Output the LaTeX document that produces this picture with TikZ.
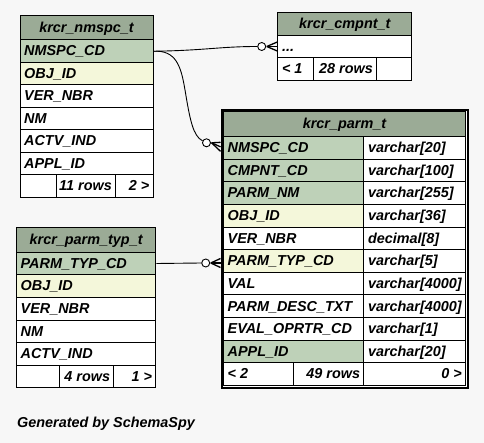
\documentclass[tikz,border=0pt]{standalone}
\usepackage{fontspec}
\setmainfont{Liberation Sans}
\definecolor{bg}{HTML}{F7F7F7}
\definecolor{hd}{HTML}{9BAB96}
\definecolor{pk}{HTML}{BED1B8}
\definecolor{fk}{HTML}{F4F7DA}
\tikzset{
  cellbox/.style={draw=black, line width=1pt, anchor=north west, inner sep=0pt},
  celltext/.style={inner sep=0pt, font=\fontsize{14.4}{16}\selectfont\bfseries\itshape,
    text height=10.3pt, text depth=0pt},
  opt/.style={circle, draw=black, fill=white, line width=0.9pt, minimum size=8pt, inner sep=0pt},
  crowline/.style={draw=black, line width=1.3pt},
  edge/.style={draw=black, line width=0.9pt},
}
% name, x, y, width, height, fill, text
\newcommand\cellL[7]{%
  \node[cellbox, fill=#6, minimum width=#4pt, minimum height=#5pt] (#1) at (#2,#3) {};
  \node[celltext, anchor=west] (#1t) at ([xshift=4.5pt,yshift=0.4pt]#1.west) {#7};}
\newcommand\cellC[7]{%
  \node[cellbox, fill=#6, minimum width=#4pt, minimum height=#5pt] (#1) at (#2,#3) {};
  \node[celltext, anchor=center] (#1t) at ([yshift=0.4pt]#1.center) {#7};}
\newcommand\cellR[7]{%
  \node[cellbox, fill=#6, minimum width=#4pt, minimum height=#5pt] (#1) at (#2,#3) {};
  \node[celltext, anchor=east] (#1t) at ([xshift=-4pt,yshift=0.4pt]#1.east) {#7};}
\newcommand\cellE[6]{%
  \node[cellbox, fill=#6, minimum width=#4pt, minimum height=#5pt] (#1) at (#2,#3) {};}
\begin{document}
\begin{tikzpicture}[x=1pt,y=-1pt]
\fill[bg] (0,0) rectangle (484,443);
\useasboundingbox (0,0) rectangle (484,443);

% krcr_nmspc_t
\cellC{nh}{19.5}{15}{133}{24.5}{hd}{krcr\_nmspc\_t}
\cellL{n1}{19.5}{39.5}{133}{22.5}{pk}{NMSPC\_CD}
\cellL{n2}{19.5}{62}{133}{22.5}{fk}{OBJ\_ID}
\cellL{n3}{19.5}{84.5}{133}{22.5}{white}{VER\_NBR}
\cellL{n4}{19.5}{107}{133}{22.5}{white}{NM}
\cellL{n5}{19.5}{129.5}{133}{22.5}{white}{ACTV\_IND}
\cellL{n6}{19.5}{152}{133}{22.5}{white}{APPL\_ID}
\cellE{nf1}{19.5}{174.5}{36.2}{22.5}{white}
\cellR{nf2}{55.7}{174.5}{59.3}{22.5}{white}{11 rows}
\cellR{nf3}{115}{174.5}{37.5}{22.5}{white}{2 >}

% krcr_cmpnt_t
\cellC{ch}{277.3}{11.7}{134}{23.3}{hd}{krcr\_cmpnt\_t}
\cellL{c1}{277.3}{35}{134}{22.3}{white}{...}
\cellL{cf1}{277.3}{57.3}{36}{22.7}{white}{< 1}
\cellR{cf2}{313.3}{57.3}{62.7}{22.7}{white}{28 rows}
\cellE{cf3}{376}{57.3}{35.3}{22.7}{white}

% krcr_parm_t
\node[draw=black, fill=white, line width=2pt, anchor=north west, inner sep=0pt,
      minimum width=246.5pt, minimum height=278pt] (pframe) at (220.5,109) {};
\cellC{ph}{223}{111.5}{242}{24.5}{hd}{krcr\_parm\_t}
\cellL{p1}{223}{136}{140.3}{22.64}{pk}{NMSPC\_CD}
\cellL{t1}{363.3}{136}{101.7}{22.64}{white}{varchar[20]}
\cellL{p2}{223}{158.64}{140.3}{22.64}{pk}{CMPNT\_CD}
\cellL{t2}{363.3}{158.64}{101.7}{22.64}{white}{varchar[100]}
\cellL{p3}{223}{181.28}{140.3}{22.64}{pk}{PARM\_NM}
\cellL{t3}{363.3}{181.28}{101.7}{22.64}{white}{varchar[255]}
\cellL{p4}{223}{203.92}{140.3}{22.64}{fk}{OBJ\_ID}
\cellL{t4}{363.3}{203.92}{101.7}{22.64}{white}{varchar[36]}
\cellL{p5}{223}{226.56}{140.3}{22.64}{white}{VER\_NBR}
\cellL{t5}{363.3}{226.56}{101.7}{22.64}{white}{decimal[8]}
\cellL{p6}{223}{249.2}{140.3}{22.64}{fk}{PARM\_TYP\_CD}
\cellL{t6}{363.3}{249.2}{101.7}{22.64}{white}{varchar[5]}
\cellL{p7}{223}{271.84}{140.3}{22.64}{white}{VAL}
\cellL{t7}{363.3}{271.84}{101.7}{22.64}{white}{varchar[4000]}
\cellL{p8}{223}{294.48}{140.3}{22.64}{white}{PARM\_DESC\_TXT}
\cellL{t8}{363.3}{294.48}{101.7}{22.64}{white}{varchar[4000]}
\cellL{p9}{223}{317.12}{140.3}{22.64}{white}{EVAL\_OPRTR\_CD}
\cellL{t9}{363.3}{317.12}{101.7}{22.64}{white}{varchar[1]}
\cellL{p10}{223}{339.76}{140.3}{22.64}{pk}{APPL\_ID}
\cellL{t10}{363.3}{339.76}{101.7}{22.64}{white}{varchar[20]}
\cellL{pf1}{223}{362.4}{70.3}{22.64}{white}{< 2}
\cellR{pf2}{293.3}{362.4}{70}{22.64}{white}{49 rows}
\cellR{pf3}{363.3}{362.4}{101.7}{22.64}{white}{0 >}

% krcr_parm_typ_t
\cellC{yh}{16}{227.3}{139.3}{24.4}{hd}{krcr\_parm\_typ\_t}
\cellL{y1}{16}{251.7}{139.3}{22.6}{pk}{PARM\_TYP\_CD}
\cellL{y2}{16}{274.3}{139.3}{22.6}{fk}{OBJ\_ID}
\cellL{y3}{16}{296.9}{139.3}{22.6}{white}{VER\_NBR}
\cellL{y4}{16}{319.5}{139.3}{22.6}{white}{NM}
\cellL{y5}{16}{342.1}{139.3}{22.6}{white}{ACTV\_IND}
\cellE{yf1}{16}{364.7}{43.3}{22.6}{white}
\cellR{yf2}{59.3}{364.7}{54}{22.6}{white}{4 rows}
\cellR{yf3}{113.3}{364.7}{42}{22.6}{white}{1 >}

% optional circles
\node[opt] (o1) at (261.7,46.5) {};
\node[opt] (o2) at (206.5,142.8) {};
\node[opt] (o3) at (205.7,263) {};

% edges
\draw[edge] (n1.east) .. controls (205,50.5) and (220,46.5) .. (o1.west);
\draw[edge] (n1.east) .. controls (176,50) and (181,66) .. (185,90)
                      .. controls (190,120) and (193,136) .. (o2);
\draw[edge] (y1.east) -- (o3.west);

% crow's feet
\coordinate (k1) at (c1.west |- o1);
\draw[crowline] ([xshift=0.6pt]o1.east) -- ([yshift=4.5pt]k1);
\draw[crowline] ([xshift=0.6pt]o1.east) -- (k1);
\draw[crowline] ([xshift=0.6pt]o1.east) -- ([yshift=-4.5pt]k1);

\coordinate (k2) at ([yshift=1pt]pframe.west |- p1.west);
\draw[crowline] ([xshift=0.6pt]o2.east) -- ([yshift=4.5pt]k2);
\draw[crowline] ([xshift=0.6pt]o2.east) -- (k2);
\draw[crowline] ([xshift=0.6pt]o2.east) -- ([yshift=-4.5pt]k2);

\coordinate (k3) at (pframe.west |- o3);
\draw[crowline] ([xshift=0.6pt]o3.east) -- ([yshift=4.5pt]k3);
\draw[crowline] ([xshift=0.6pt]o3.east) -- (k3);
\draw[crowline] ([xshift=0.6pt]o3.east) -- ([yshift=-4.5pt]k3);

\node[anchor=base west, inner sep=0pt, font=\fontsize{14.4}{16}\selectfont\bfseries\itshape] (gen) at (17,427.5) {Generated by SchemaSpy};
\end{tikzpicture}
\end{document}
